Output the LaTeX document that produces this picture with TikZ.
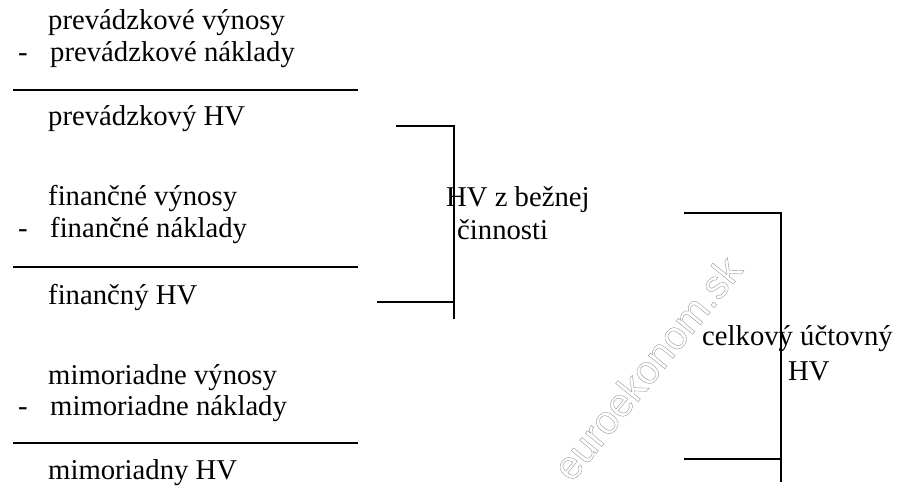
\documentclass[tikz,border=0pt]{standalone}
\usepackage{fontspec}
\setmainfont{Liberation Serif}
\newfontfamily\markfont[FakeBold=1]{Liberation Sans}
% grey stroke round white letters
\newcommand\hollow[1]{\special{pdf:literal direct 0.6 G}#1}
\tikzset{
  row/.style={anchor=base west, inner sep=0pt},
  rule/.style={line width=2.5pt},
  brace/.style={line width=2.5pt, line cap=rect},
  wmark/.style={rotate=51, inner sep=0pt, font=\markfont\fontsize{40}{42}\selectfont},
}

\begin{document}
\begin{tikzpicture}[x=1pt,y=-1pt,font=\fontsize{28.7}{32}\selectfont]
\useasboundingbox (0,0) rectangle (897,489);
% watermark
\node[wmark, text=white] (mark) at (647,368) {\hollow{euroekonom.sk}};
% operating
\node[row] (pvyn) at (48,30) {prevádzkové výnosy};
\node[row] (pmin) at (18,62) {-};
\node[row] (pnak) at (50,62) {prevádzkové náklady};
\draw[rule] (13,90) -- (358,90);
\node[row] (phv) at (48,126) {prevádzkový HV};
% financial
\node[row] (fvyn) at (48,206) {finančné výnosy};
\node[row] (fmin) at (18,238) {-};
\node[row] (fnak) at (50,238) {finančné náklady};
\draw[rule] (13,267) -- (358,267);
\node[row] (fhv) at (48,304) {finančný HV};
% extraordinary
\node[row] (mvyn) at (48,384) {mimoriadne výnosy};
\node[row] (mmin) at (18,415) {-};
\node[row] (mnak) at (50,415) {mimoriadne náklady};
\draw[rule] (13,443) -- (358,443);
\node[row] (mhv) at (48,479) {mimoriadny HV};
% first bracket
\coordinate (b1top) at (397,126);
\coordinate (b1bot) at (378,302);
\coordinate (b1end) at (454,318);
\draw[brace] (b1top) -| (b1end);
\draw[brace] (b1bot) -- (b1bot -| b1end);
\node[row] (bez1) at (446,207) {HV z bežnej};
\node[row] (bez2) at (457,240) {činnosti};
% second bracket
\coordinate (b2top) at (685,213);
\coordinate (b2bot) at (685,459);
\coordinate (b2end) at (781,481);
\draw[brace] (b2top) -| (b2end);
\draw[brace] (b2bot) -- (b2bot -| b2end);
\node[row] (cel1) at (702,345) {celkový účtovný};
\node[row] (cel2) at (788,380) {HV};
\end{tikzpicture}
\end{document}
